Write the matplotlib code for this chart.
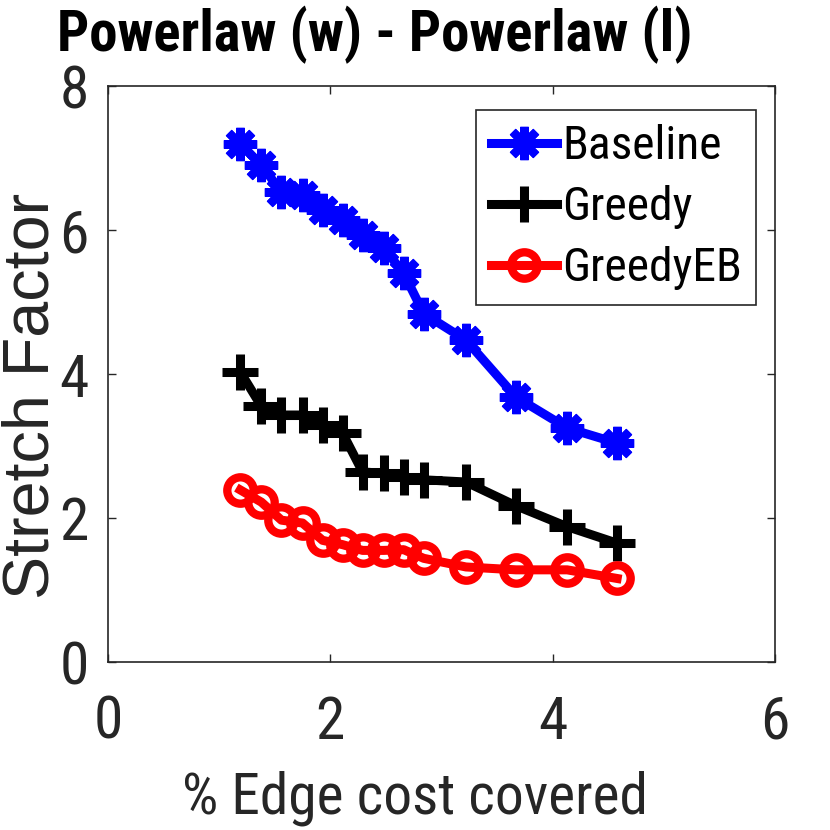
import matplotlib
matplotlib.use("Agg")
import matplotlib.pyplot as plt
from matplotlib import font_manager

# ---- data ----
edge_cost = [1.19, 1.38, 1.56, 1.75, 1.93, 2.11, 2.29, 2.48, 2.66, 2.84, 3.22, 3.67, 4.13, 4.58]
baseline = [7.20, 6.90, 6.53, 6.49, 6.28, 6.14, 5.93, 5.75, 5.40, 4.84, 4.47, 3.68, 3.25, 3.04]
greedy = [4.03, 3.55, 3.43, 3.43, 3.29, 3.18, 2.64, 2.62, 2.57, 2.53, 2.50, 2.17, 1.88, 1.65]
greedy_eb = [2.39, 2.22, 1.97, 1.93, 1.69, 1.63, 1.55, 1.55, 1.56, 1.44, 1.32, 1.28, 1.28, 1.16]
series_names = ["Baseline", "Greedy", "GreedyEB"]
x_ticks = [0, 2, 4, 6]
y_ticks = [0, 2, 4, 6, 8]
title = "Powerlaw (w) - Powerlaw (l)"
x_label = "% Edge cost covered"
y_label = "Stretch Factor"

names = {f.name for f in font_manager.fontManager.ttflist}
if "Liberation Sans Narrow" in names:
    narrow, scale = "Liberation Sans Narrow", 1.0
elif "Roboto Condensed" in names:
    narrow, scale = "Roboto Condensed", 0.95
else:
    narrow, scale = "Liberation Sans", 0.85
regular = "Liberation Sans"

dark = "#262626"
fig = plt.figure(figsize=(8.3, 8.3), dpi=100)
ax = fig.add_axes([108/830, 1-662/830, (775-108)/830, (662-86)/830])

asterisk = (8, 2, 0)
ax.plot(edge_cost, baseline, color="#0000ff", lw=6.5, marker=asterisk, ms=24, mew=6,
        label=series_names[0])
ax.plot(edge_cost, greedy, color="black", lw=6.5, marker="+", ms=26, mew=6.5,
        label=series_names[1])
ax.plot(edge_cost, greedy_eb, color="#ff0000", lw=6.5, marker="o", ms=19, mew=6,
        mfc="none", label=series_names[2])

ax.set_xlim(0, 6)
ax.set_ylim(0, 8)
ax.set_xticks(x_ticks)
ax.set_yticks(y_ticks)
ax.tick_params(direction="in", length=6, width=1, color=dark, top=True, right=True,
               labelcolor=dark)
ax.tick_params(axis="x", pad=23)
ax.tick_params(axis="y", pad=14)
for lab in ax.get_xticklabels() + ax.get_yticklabels():
    lab.set_fontfamily(narrow)
    lab.set_fontsize(45 * scale)
for sp in ax.spines.values():
    sp.set_color(dark)
    sp.set_linewidth(1.2)

ax.set_xlabel(x_label, family=narrow, fontsize=43.5 * scale, color=dark)
ax.xaxis.set_label_coords((415-108)/667, (662-770)/576)
ax.xaxis.label.set_va("top")
ax.set_ylabel(y_label, family=regular, fontsize=46.5, color=dark)
ax.yaxis.set_label_coords((32-108)/667, (662-396)/576)
ax.yaxis.label.set_va("center")

fig.text(375/830, 1-51/830, title, family=narrow, fontsize=43 * scale,
         fontweight="bold", ha="center", va="baseline", color="black")

leg = ax.legend(loc="upper right", bbox_to_anchor=((756-108)/667, (662-110)/576),
                borderaxespad=0, prop={"family": narrow, "size": 36 * scale},
                handlelength=1.4, handletextpad=0.1, borderpad=0.3,
                labelspacing=0.36, numpoints=1, fancybox=False, framealpha=1,
                edgecolor=dark)
leg.get_frame().set_linewidth(1.2)

fig.savefig("out.png", dpi=100)
